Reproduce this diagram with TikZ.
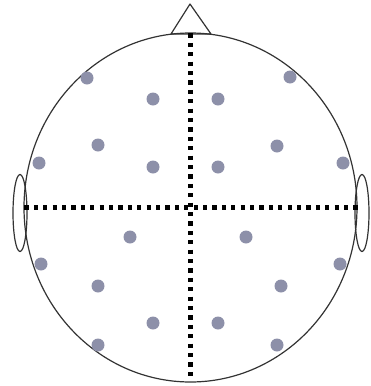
\documentclass[tikz,border=0pt]{standalone}
\usepackage{xcolor}
\usetikzlibrary{positioning,shapes.geometric}
\definecolor{scalpline}{HTML}{333333}
\definecolor{electrodegray}{HTML}{8D90A9}

\begin{document}
\begin{tikzpicture}[
  x=1pt, y=-1pt,
  outline/.style={draw=scalpline, line width=1.2pt},
  head/.style={outline, ellipse, minimum width=333pt, minimum height=349pt, inner sep=0pt},
  ear/.style={outline, ellipse, minimum width=14pt, minimum height=77pt, inner sep=0pt},
  electrode/.style={circle, fill=electrodegray, minimum size=13pt, inner sep=0pt},
  midline/.style={black, line width=4.2pt, dash pattern=on 4.2pt off 5.2pt}
]
\useasboundingbox (0,0) rectangle (370,386);
\node[ear] (earL) at (20,213) {};
\node[ear] (earR) at (362,213) {};
\node[head] (head) at (190.5,207.5) {};
\coordinate (nosetip) at (190,4);
\coordinate (noseL) at (171,34);
\coordinate (noseR) at (211,34);
\draw[outline, line join=round] (noseL) -- (nosetip) -- (noseR) -- cycle;

\draw[midline, shorten <=1pt, shorten >=5pt] (head.north) -- (head.south);
\draw[midline, shorten <=1pt] (head.west) -- (head.east);

\foreach \x/\y [count=\i] in {87/78, 290/77, 153/99, 218/99, 98/145, 277/146,
    39/163, 153/167, 218/167, 343/163, 130/237, 246/237, 41/264, 340/264,
    98/286, 281/286, 153/323, 218/323, 98/345, 277/345}
  \node[electrode] (e\i) at (\x,\y) {};
\end{tikzpicture}
\end{document}
